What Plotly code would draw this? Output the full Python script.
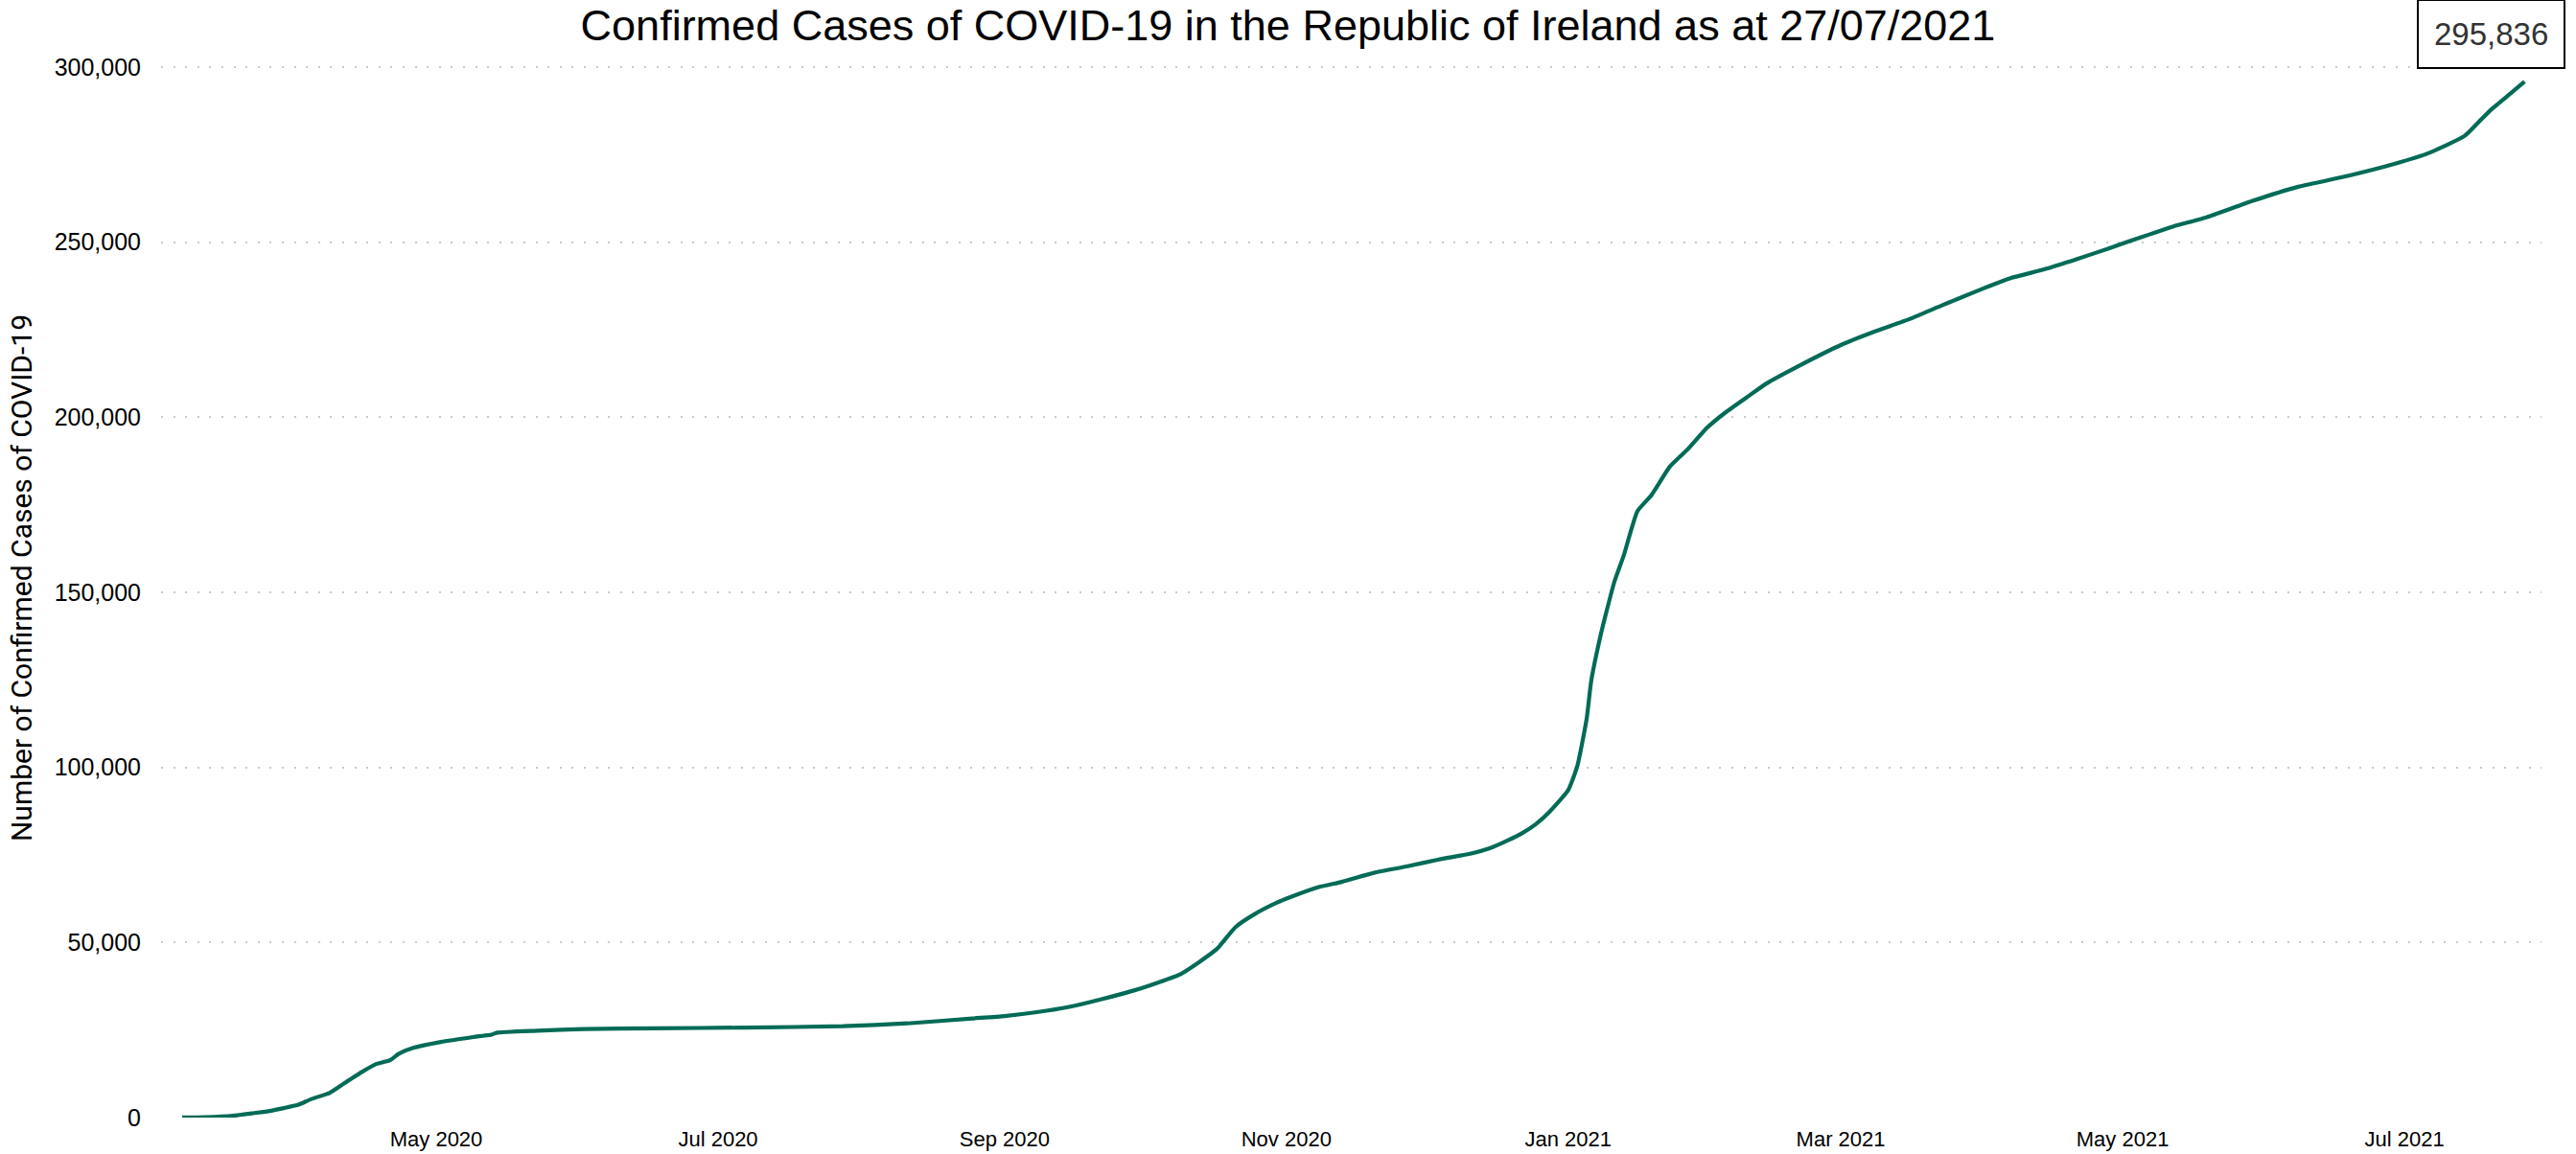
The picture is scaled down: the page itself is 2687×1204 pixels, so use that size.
import plotly.graph_objects as go

# ---- data ----
dates = [
    "2020-03-07", "2020-03-12", "2020-03-18", "2020-03-22", "2020-03-26", "2020-03-29",
    "2020-04-01", "2020-04-04", "2020-04-08", "2020-04-11", "2020-04-15", "2020-04-18",
    "2020-04-21", "2020-04-23", "2020-04-26", "2020-05-02", "2020-05-09", "2020-05-13",
    "2020-05-14", "2020-05-23", "2020-06-02", "2020-06-17", "2020-07-07", "2020-07-28",
    "2020-08-11", "2020-08-25", "2020-09-01", "2020-09-08", "2020-09-15", "2020-09-22",
    "2020-09-29", "2020-10-03", "2020-10-09", "2020-10-13", "2020-10-17", "2020-10-21",
    "2020-10-25", "2020-10-30", "2020-11-02", "2020-11-08", "2020-11-13", "2020-11-20",
    "2020-11-27", "2020-12-04", "2020-12-11", "2020-12-15", "2020-12-19", "2020-12-22",
    "2020-12-25", "2020-12-28", "2021-01-01", "2021-01-03", "2021-01-05", "2021-01-06",
    "2021-01-08", "2021-01-09", "2021-01-11", "2021-01-13", "2021-01-16", "2021-01-19",
    "2021-01-23", "2021-01-27", "2021-01-31", "2021-02-04", "2021-02-09", "2021-02-13",
    "2021-02-20", "2021-03-01", "2021-03-08", "2021-03-16", "2021-03-23", "2021-03-31",
    "2021-04-07", "2021-04-14", "2021-04-21", "2021-04-28", "2021-05-05", "2021-05-12",
    "2021-05-19", "2021-05-29", "2021-06-08", "2021-06-19", "2021-06-29", "2021-07-06",
    "2021-07-14", "2021-07-17", "2021-07-20", "2021-07-24", "2021-07-27",
]
cases = [
    20, 100, 500, 1200, 1900, 2700,
    3600, 5300, 7100, 9700, 13100, 15300,
    16400, 18300, 19900, 21600, 23000, 23700,
    24200, 24800, 25300, 25500, 25700, 26100,
    26900, 28300, 29000, 30100, 31600, 33800,
    36300, 38000, 40900, 44300, 48200, 54400,
    58000, 61400, 63000, 65800, 67300, 69900,
    71700, 73700, 75400, 76900, 79200, 81200,
    83800, 87400, 93500, 100500, 113900, 124800,
    137600, 143000, 153000, 160400, 173200, 177700,
    185900, 191000, 196900, 201300, 206000, 209700,
    214700, 220600, 224300, 228100, 232000, 236300,
    239800, 242200, 245100, 248200, 251400, 254500,
    257000, 261700, 265800, 269000, 272400, 275300,
    280300, 284200, 288100, 292500, 295836,
]

tick_dates = ["2020-05-01", "2020-07-01", "2020-09-01", "2020-11-01",
              "2021-01-01", "2021-03-01", "2021-05-01", "2021-07-01"]
tick_labels = ["May 2020", "Jul 2020", "Sep 2020", "Nov 2020",
               "Jan 2021", "Mar 2021", "May 2021", "Jul 2021"]
y_ticks = [0, 50000, 100000, 150000, 200000, 250000, 300000]

title_text = "Confirmed Cases of COVID-19 in the Republic of Ireland as at 27/07/2021"
y_title = "Number of Confirmed Cases of COVID-19"

LINE = "#006b56"
GRID = "#c9c9c9"

fig = go.Figure()
fig.add_trace(go.Scatter(
    x=dates, y=cases, mode="lines",
    line=dict(color=LINE, width=4.2, shape="spline", smoothing=0.5),
    hoverinfo="skip", showlegend=False,
))

fig.add_annotation(
    x=dates[-1], y=cases[-1], xref="x", yref="y",
    text=f"{cases[-1]:,}", showarrow=False,
    xanchor="center", yanchor="bottom", xshift=-35, yshift=13,
    font=dict(family="Liberation Sans, Arial", size=33, color="#333333"),
    bgcolor="white", bordercolor="black", borderwidth=2, borderpad=16,
)

fig.update_layout(
    width=2687, height=1204,
    margin=dict(l=168, r=36, t=40, b=38),
    paper_bgcolor="white", plot_bgcolor="white",
    title=dict(text=title_text, x=0.5, xanchor="center", xref="container",
               y=1 - 42 / 1204, yanchor="bottom", yref="container",
               font=dict(family="Liberation Sans, Arial", size=45, color="black")),
    font=dict(family="Liberation Sans, Arial", color="black"),
)
fig.update_xaxes(
    type="date",
    range=["2020-03-02 10:30", "2021-07-30 16:00"],
    tickvals=tick_dates, ticktext=tick_labels,
    showgrid=False, zeroline=False, showline=False, ticks="",
    tickfont=dict(family="Liberation Sans, Arial", size=22, color="black"),
    ticklabelstandoff=7, automargin=False,
)
fig.update_yaxes(
    range=[0, 308190],
    tickvals=y_ticks, tickformat=",",
    showgrid=True, gridcolor=GRID, gridwidth=2, griddash="2px,10.6px",
    zeroline=False, showline=False, ticks="",
    tickfont=dict(family="Liberation Sans, Arial", size=25, color="black"),
    ticklabelstandoff=20, automargin=False,
    title=dict(text=y_title, standoff=14,
               font=dict(family="Roboto", size=30, color="black")),
)

fig.write_html("out.html", config={"displayModeBar": False},
               post_script="document.body.style.margin='0';")
